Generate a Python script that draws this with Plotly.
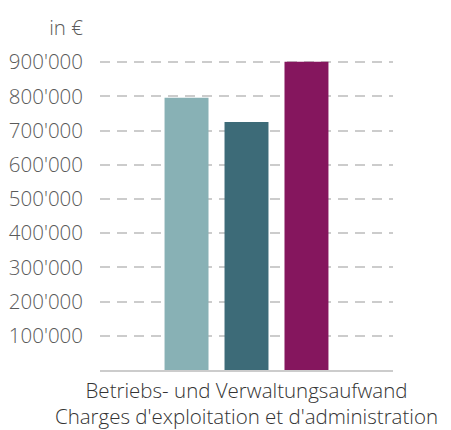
import plotly.graph_objects as go

categories = ["Betriebs- und Verwaltungsaufwand<br>Charges d'exploitation et d'administration"]
series_names = ["Serie 1", "Serie 2", "Serie 3"]
series_values = [[796000], [725000], [901000]]
series_colors = ["#88b1b5", "#3d6b78", "#85165e"]
tick_values = [100000, 200000, 300000, 400000, 500000, 600000, 700000, 800000, 900000, 1000000]
tick_labels = ["100'000", "200'000", "300'000", "400'000", "500'000", "600'000",
               "700'000", "800'000", "900'000", "in €"]

fig = go.Figure()
for name, vals, col in zip(series_names, series_values, series_colors):
    fig.add_trace(go.Bar(x=categories, y=vals, name=name, marker_color=col,
                         marker_line_width=0))

font_family = "Open Sans, Lato, sans-serif"
fig.update_layout(
    width=451, height=430,
    margin=dict(l=100, r=58, t=28, b=60),
    paper_bgcolor="white", plot_bgcolor="white",
    barmode="group", bargap=0.386, bargroupgap=0.267,
    showlegend=False,
    font=dict(family=font_family, size=19, color="#555555"),
)
fig.update_yaxes(
    range=[0, 1000000], automargin=False,
    tickvals=tick_values, ticktext=tick_labels,
    showgrid=True, gridcolor="#cccccc", gridwidth=1.5, griddash="10px,7px",
    zeroline=False, showline=False, ticks="",
    ticklabelstandoff=16,
    tickfont=dict(family=font_family, size=20.5, color="#5a5a5a", weight=300),
)
fig.update_xaxes(
    showline=True, linecolor="#cccccc", linewidth=2,
    showgrid=False, ticks="", automargin=False,
    ticklabelstandoff=1,
    tickfont=dict(family=font_family, size=20.5, color="#333333", weight=300),
)

fig.write_html(
    "out.html",
    config={"displayModeBar": False},
    post_script="document.body.style.margin='0px';document.body.style.overflow='hidden';",
)
